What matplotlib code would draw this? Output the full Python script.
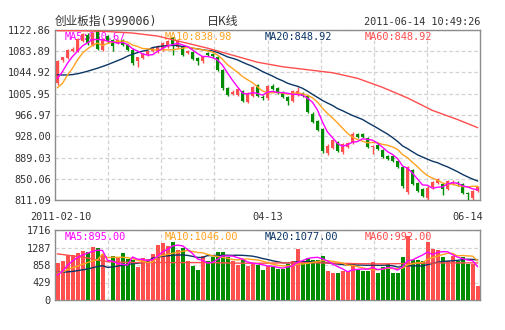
import numpy as np
import pandas as pd
import matplotlib
matplotlib.use('Agg')
import matplotlib.pyplot as plt

# ---- daily candles, 2011-02-10 .. 2011-06-14 (85 trading days) ----
opens = [1025.1, 1067.0, 1071.2, 1084.7, 1084.7, 1102.0, 1114.2, 1095.7, 1120.5, 1086.5,
         1111.2, 1105.0, 1098.9, 1105.0, 1095.7, 1086.5, 1065.1, 1071.2, 1077.3, 1083.6,
         1083.6, 1086.0, 1092.8, 1108.1, 1090.9, 1092.8, 1080.4, 1082.3, 1071.2, 1065.1,
         1080.4, 1078.6, 1072.5, 1049.6, 1015.9, 1005.3, 1003.5, 1010.9, 991.3, 1002.0,
         1021.4, 1000.2, 997.4, 1020.8, 1015.9, 1008.5, 999.2, 991.9, 1002.9, 1007.5,
         1001.6, 969.7, 955.5, 941.1, 896.8, 907.0, 918.1, 898.7, 907.9, 916.2,
         931.9, 932.0, 924.9, 907.6, 912.5, 902.8, 892.2, 892.2, 883.0, 871.9,
         824.9, 866.4, 841.9, 830.8, 814.7, 834.1, 843.0, 840.0, 830.8, 840.0,
         842.9, 840.0, 823.4, 815.3, 827.7]
highs = [1067.0, 1074.0, 1088.0, 1091.0, 1109.0, 1118.0, 1117.0, 1119.0, 1122.86, 1108.0,
         1113.0, 1107.0, 1107.0, 1107.0, 1098.0, 1089.0, 1074.0, 1080.0, 1087.0, 1092.0,
         1095.0, 1101.0, 1104.0, 1110.0, 1104.0, 1095.0, 1087.0, 1084.0, 1073.0, 1076.0,
         1083.0, 1081.0, 1075.0, 1051.0, 1018.0, 1012.0, 1016.0, 1013.0, 1009.0, 1020.0,
         1024.0, 1004.0, 1022.0, 1023.0, 1018.0, 1011.0, 1001.0, 1012.0, 1018.6, 1010.0,
         1004.0, 972.0, 958.0, 943.0, 913.0, 923.0, 920.0, 916.0, 918.0, 936.5,
         934.0, 934.0, 927.0, 912.0, 915.0, 905.0, 894.0, 894.0, 885.0, 874.0,
         873.0, 868.0, 844.0, 833.0, 836.0, 846.0, 851.0, 842.0, 848.0, 847.0,
         846.0, 842.0, 826.0, 830.0, 837.0]
lows = [1022.0, 1065.0, 1069.0, 1083.0, 1083.0, 1100.0, 1096.0, 1094.0, 1086.0, 1084.0,
        1099.0, 1084.7, 1097.0, 1093.0, 1084.0, 1059.0, 1055.9, 1069.0, 1075.0, 1082.0,
        1081.0, 1084.0, 1090.0, 1077.3, 1089.0, 1075.0, 1078.0, 1067.0, 1057.8, 1063.0,
        1075.0, 1072.0, 1047.0, 1013.0, 1001.0, 1003.0, 1001.0, 990.0, 989.0, 1000.0,
        1000.0, 994.0, 995.0, 1012.0, 1005.0, 998.0, 985.4, 990.0, 1001.0, 1000.0,
        970.0, 952.0, 937.0, 898.0, 894.0, 905.0, 899.0, 896.0, 906.0, 914.0,
        925.0, 925.0, 906.0, 895.9, 903.0, 888.0, 884.0, 880.0, 870.0, 834.0,
        822.0, 838.0, 826.0, 816.0, 812.0, 832.0, 841.0, 820.3, 829.0, 838.0,
        836.0, 822.0, 811.09, 811.5, 825.0]
closes = [1065.1, 1072.5, 1086.5, 1088.3, 1106.8, 1115.5, 1098.9, 1117.3, 1088.3, 1105.0,
          1102.0, 1092.8, 1105.0, 1095.7, 1086.5, 1062.0, 1072.5, 1078.6, 1084.7, 1089.6,
          1092.8, 1098.9, 1102.0, 1097.0, 1102.0, 1077.3, 1084.7, 1069.9, 1065.1, 1074.3,
          1077.3, 1074.3, 1049.6, 1015.9, 1003.5, 1009.8, 1014.0, 992.4, 1006.6, 1017.7,
          1002.0, 998.3, 1019.5, 1014.0, 1008.0, 1000.5, 992.4, 1010.3, 1011.8, 1002.0,
          972.5, 955.0, 939.3, 901.5, 910.7, 920.8, 901.5, 913.5, 916.2, 932.8,
          927.3, 927.0, 907.9, 909.4, 905.2, 890.4, 886.1, 882.1, 871.9, 836.9,
          871.0, 840.0, 827.7, 818.4, 833.2, 844.3, 849.2, 830.8, 845.5, 844.2,
          840.0, 824.5, 821.6, 827.7, 835.0]
volumes = [907, 948, 1095, 1111, 1152, 1209, 1176, 1299, 1275, 1110,
           0, 1070, 1046, 1152, 1013, 989, 801, 1030, 1013, 1127,
           1356, 1397, 1315, 1422, 1234, 1275, 948, 825, 743, 1070,
           948, 1046, 1176, 1176, 1046, 948, 850, 989, 825, 907,
           866, 743, 825, 801, 768, 768, 882, 948, 1258, 964,
           1030, 989, 989, 1078, 703, 662, 662, 719, 719, 915,
           743, 703, 703, 923, 662, 801, 882, 662, 662, 1054,
           1560, 972, 972, 948, 1422, 1258, 1234, 1054, 948, 1070,
           948, 1054, 882, 882, 335]

# moving-average values at the start of the window
ma5_head = [1034.3, 1046.6, 1062.0, 1074.3]
ma10_head = [1017.1, 1025.0, 1040.4, 1052.8, 1068.0, 1080.4, 1088.4, 1094.6, 1098.9]
ma20_head = [1040.8, 1040.4, 1040.4, 1041.1, 1042.6, 1044.8, 1047.2, 1050.0, 1052.8, 1055.9,
             1059.2, 1062.9, 1066.6, 1070.3, 1074.9, 1078.6, 1081.4, 1084.1, 1086.0]
ma60_idx = [0, 5, 10, 15, 20, 25, 30, 35, 40, 45, 50, 55, 60, 65, 70, 75, 80, 84]
ma60_vals = [1121.6, 1121.4, 1120.1, 1117.3, 1111.8, 1100.7, 1089.6, 1076.7, 1063.8, 1055.5,
             1050.0, 1044.5, 1034.3, 1017.7, 998.3, 975.3, 958.7, 943.9]

vma5_head = [617, 702, 848, 959]
vma10_head = [660, 686, 745, 789, 830, 874, 917, 959, 984]
vma20_head = [676, 680, 690, 700, 720, 740, 760, 790, 820, 840,
              800, 810, 830, 850, 870, 890, 900, 920, 940]
vma60_vals = [1131, 1050, 940, 917, 917, 917, 917, 905, 900, 910,
              915, 905, 890, 885, 895, 905, 910, 910]

price_ticks = [811.09, 850.06, 889.03, 928.00, 966.97, 1005.95, 1044.92, 1083.89, 1122.86]
vol_ticks = [0, 429, 858, 1287, 1716]
date_labels = ['2011-02-10', '04-13', '06-14']
date_pos = [0, 42, 84]

RED = '#ff5050'
GREEN = '#008c00'
C_MA5 = '#ff00ff'
C_MA10 = '#ffa21f'
C_MA20 = '#0b3564'
C_MA60 = '#ff4d4d'
GRID = '#d2d2d2'
FRAME = '#8c8c8c'
TXT = '#333333'

plt.rcParams['font.family'] = ['DejaVu Sans Mono', 'Noto Sans CJK SC']

W, H = 505, 330
fig = plt.figure(figsize=(W / 100, H / 100), dpi=100)


def box(l, t, r, b):
    return [l / W, 1 - b / H, (r - l) / W, (b - t) / H]


def ma(values, n, head):
    s = pd.Series(values, dtype=float).rolling(n).mean().to_numpy()
    s[:len(head)] = head
    return s


def style(ax, ticks, labels):
    ax.set_xlim(-0.5, len(closes) - 0.5)
    ax.set_xticks([-0.5 + k * len(closes) / 8 for k in range(1, 8)])
    ax.set_xticklabels([])
    ax.set_yticks(ticks)
    ax.set_yticklabels(labels, fontsize=7.4, color=TXT)
    ax.tick_params(length=0, pad=3)
    ax.grid(True, color=GRID, linestyle=(0, (3, 2)), linewidth=0.9)
    ax.set_axisbelow(True)
    for sp in ax.spines.values():
        sp.set_color(FRAME)
        sp.set_linewidth(1.0)


x = np.arange(len(closes))
o = np.array(opens)
c = np.array(closes)
col = np.where(c >= o, RED, GREEN)

# ---- price panel ----
ax = fig.add_axes(box(55, 30, 480, 200))
style(ax, price_ticks, ['%.2f' % v for v in price_ticks])
ax.set_ylim(price_ticks[0], price_ticks[-1])

ax.vlines(x, lows, highs, colors=col, linewidth=1, zorder=3)
ax.bar(x, np.maximum(np.abs(c - o), 1.6), bottom=np.minimum(o, c), width=0.72,
       color=col, linewidth=0, zorder=3)

ax.plot(x, ma(closes, 20, ma20_head), color=C_MA20, lw=1, zorder=4)
ax.plot(ma60_idx, ma60_vals, color=C_MA60, lw=1, zorder=4)
ax.plot(x, ma(closes, 10, ma10_head), color=C_MA10, lw=1, zorder=4)
ax.plot(x, ma(closes, 5, ma5_head), color=C_MA5, lw=1, zorder=4)

hdr = [('MA5:830.67', C_MA5), ('MA10:838.98', C_MA10),
       ('MA20:848.92', C_MA20), ('MA60:848.92', C_MA60)]
for k, (t, cc) in enumerate(hdr):
    ax.text((65 + 100 * k - 55) / 425, 1 - 7 / 170, t, transform=ax.transAxes,
            color=cc, fontsize=7.4, va='center', ha='left', zorder=1)

for lab, p in zip(date_labels, date_pos):
    ha = 'left' if p == 0 else ('right' if p == len(closes) - 1 else 'center')
    xx = {'left': -0.5 - 25 / 5, 'center': p, 'right': len(closes) - 0.5 + 3 / 5}[ha]
    ax.text(xx, -17 / 170, lab, transform=ax.get_xaxis_transform(), ha=ha,
            va='center', fontsize=7.4, color=TXT)

# ---- volume panel ----
av = fig.add_axes(box(55, 230, 480, 300))
style(av, vol_ticks, [str(v) for v in vol_ticks])
av.set_ylim(0, vol_ticks[-1])
av.bar(x, volumes, width=0.8, color=col, linewidth=0, zorder=3)
av.plot(x, ma(volumes, 20, vma20_head), color=C_MA20, lw=1, zorder=4)
av.plot(ma60_idx, vma60_vals, color=C_MA60, lw=1, zorder=4)
av.plot(x, ma(volumes, 10, vma10_head), color=C_MA10, lw=1, zorder=4)
av.plot(x, ma(volumes, 5, vma5_head), color=C_MA5, lw=1, zorder=4)

vhdr = [('MA5:895.00', C_MA5), ('MA10:1046.00', C_MA10),
        ('MA20:1077.00', C_MA20), ('MA60:992.00', C_MA60)]
for k, (t, cc) in enumerate(vhdr):
    av.text((65 + 100 * k - 55) / 425, 1 - 6.5 / 70, t, transform=av.transAxes,
            color=cc, fontsize=7.4, va='center', ha='left', zorder=1)

# ---- header ----
fig.text(55 / W, 1 - 21 / H, '创业板指(399006)', fontsize=8.4, color=TXT,
         va='center', ha='left')
fig.text(223 / W, 1 - 21 / H, '日K线', fontsize=8.6, color=TXT,
         va='center', ha='center', family='Noto Sans CJK SC')
fig.text(480 / W, 1 - 22 / H, '2011-06-14 10:49:26', fontsize=7.4, color=TXT,
         va='center', ha='right')

fig.savefig('out.png', dpi=100, facecolor='white')
